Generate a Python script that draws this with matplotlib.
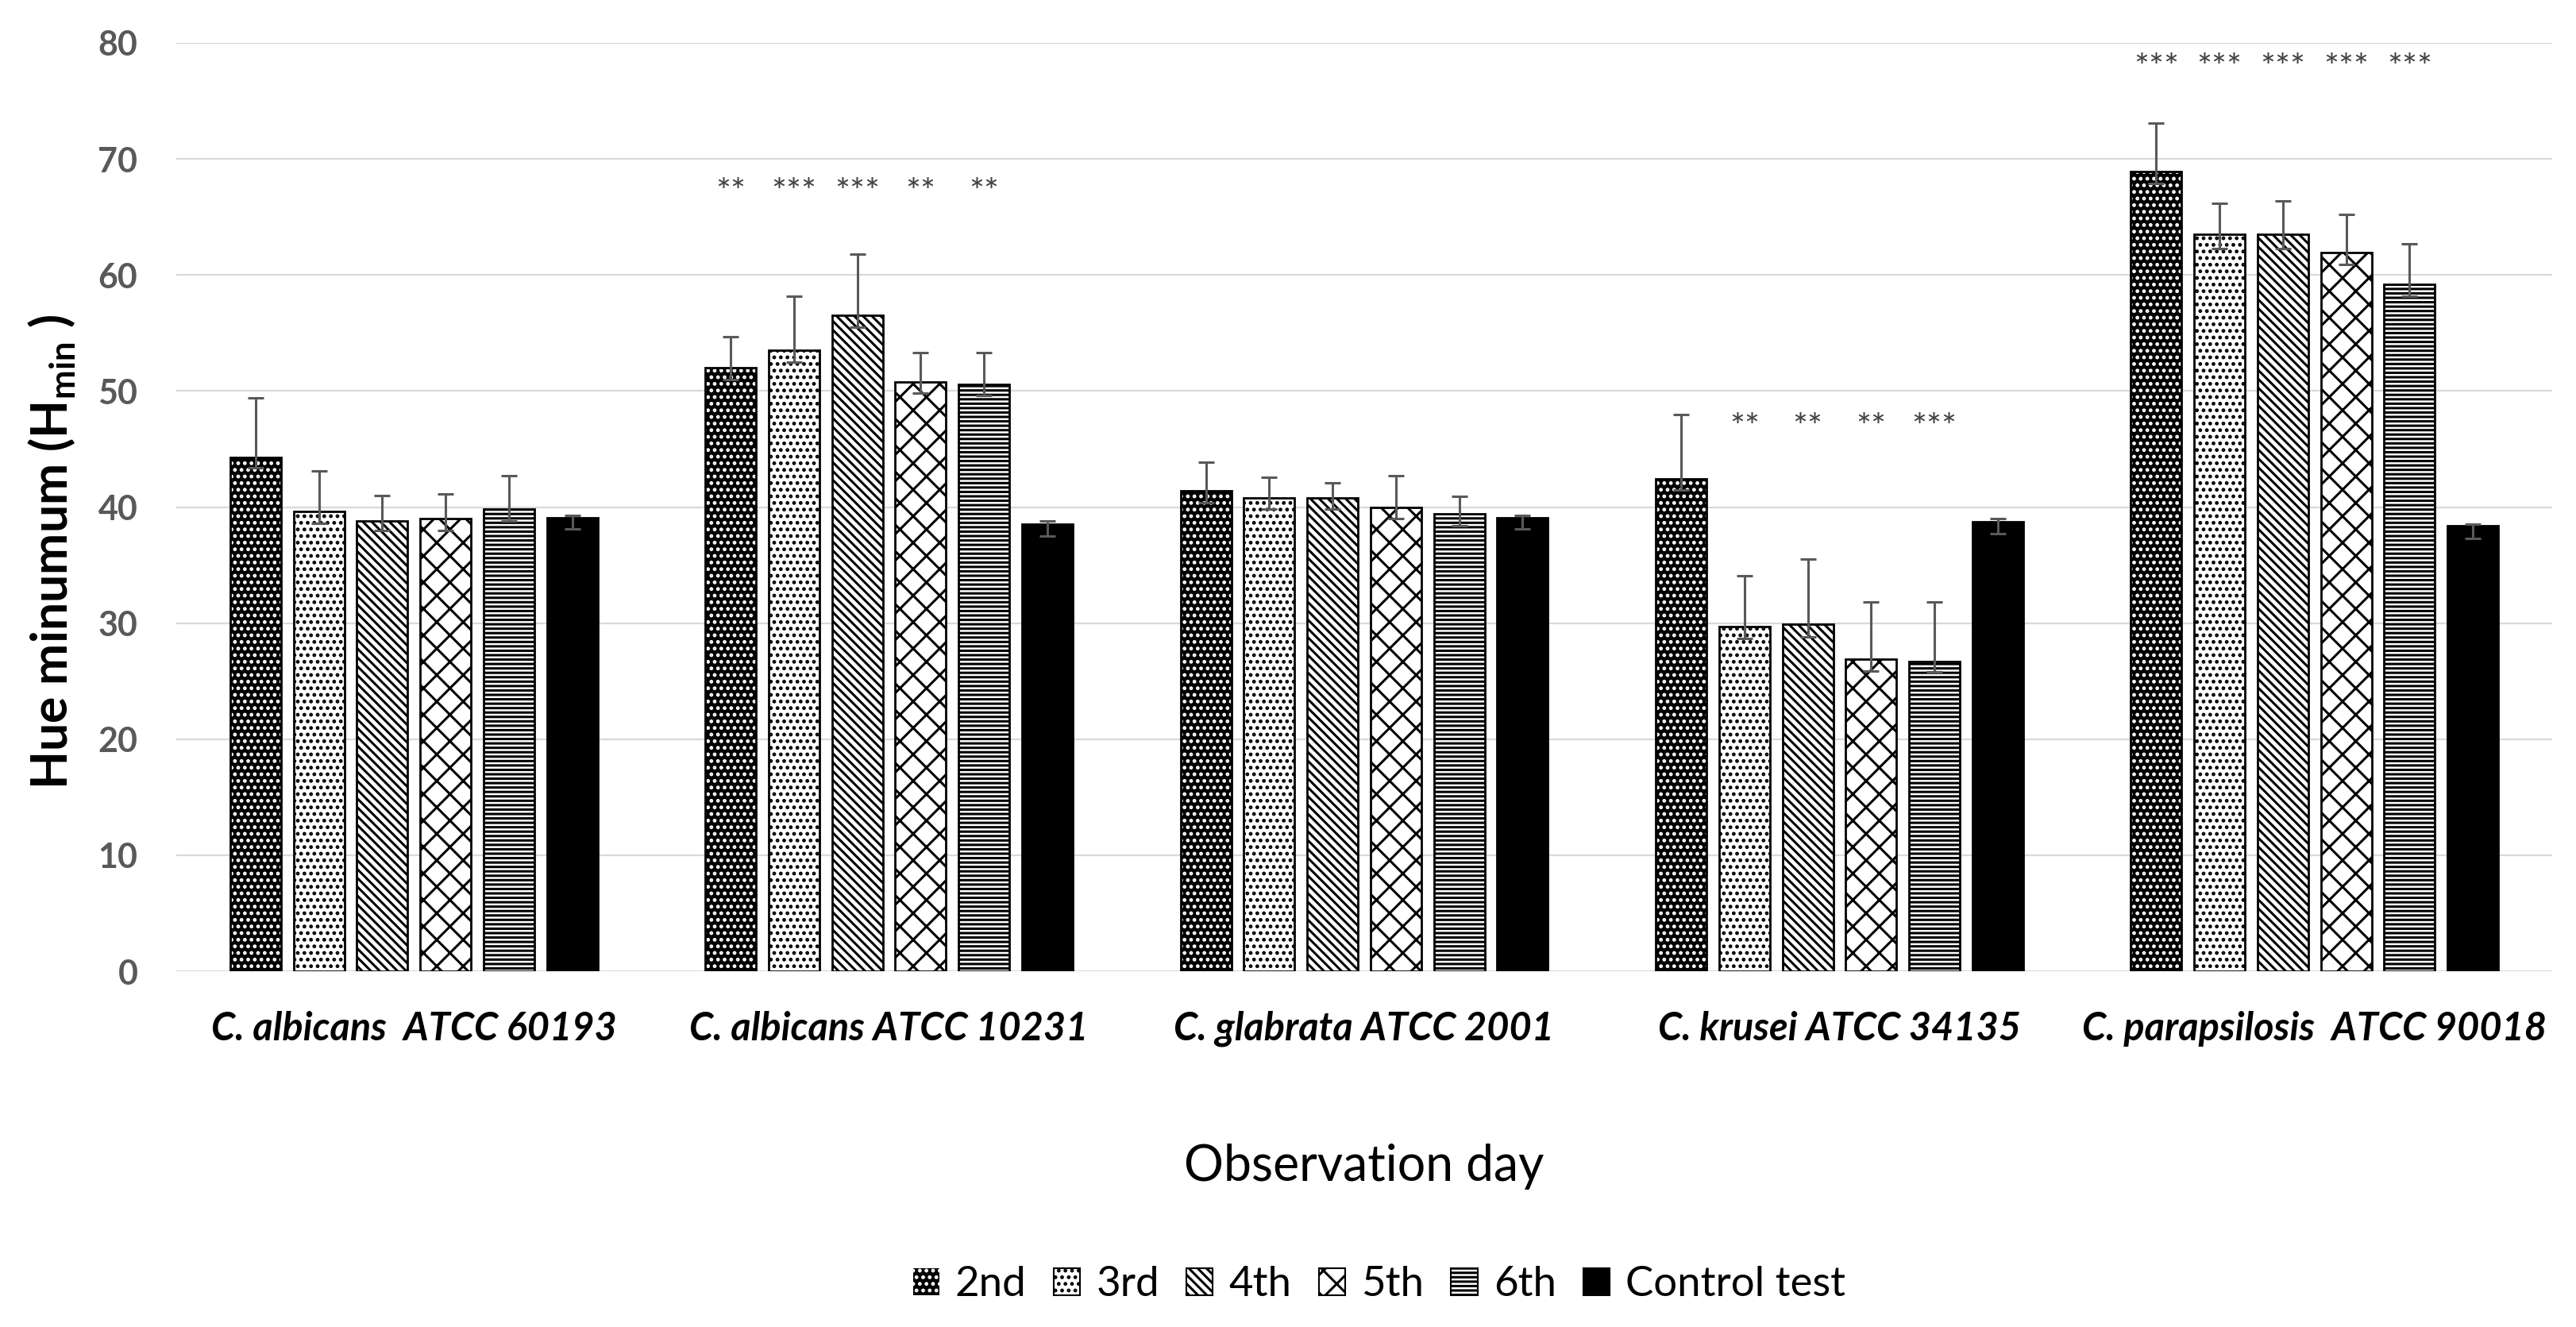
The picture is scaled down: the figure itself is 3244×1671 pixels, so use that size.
import matplotlib
matplotlib.use("Agg")
import matplotlib.pyplot as plt
from matplotlib.patches import Patch
import numpy as np

plt.rcParams['font.family'] = ['Lato', 'DejaVu Sans']
plt.rcParams['mathtext.fontset'] = 'custom'
plt.rcParams['mathtext.rm'] = 'Lato'
plt.rcParams['mathtext.bf'] = 'Lato:bold'
plt.rcParams['hatch.linewidth'] = 2.2

# ---------------- data ----------------
categories = ["C. albicans  ATCC 60193", "C. albicans ATCC 10231", "C. glabrata ATCC 2001",
              "C. krusei ATCC 34135", "C. parapsilosis  ATCC 90018"]
series_names = ["2nd", "3rd", "4th", "5th", "6th", "Control test"]

day2 = [44.3, 52.0, 41.4, 42.4, 68.9]
day3 = [39.6, 53.5, 40.8, 29.7, 63.5]
day4 = [38.8, 56.5, 40.8, 29.9, 63.5]
day5 = [39.0, 50.8, 40.0, 26.9, 61.9]
day6 = [39.8, 50.6, 39.4, 26.7, 59.2]
control = [39.1, 38.5, 39.1, 38.7, 38.4]

err_up2 = [5.1, 2.7, 2.5, 5.6, 4.2]
err_up3 = [3.5, 4.7, 1.8, 4.4, 2.7]
err_up4 = [2.2, 5.3, 1.3, 5.6, 2.9]
err_up5 = [2.1, 2.5, 2.7, 4.9, 3.3]
err_up6 = [2.9, 2.7, 1.5, 5.1, 3.5]
err_upc = [0.2, 0.3, 0.2, 0.3, 0.1]

err_lo2 = [0.9, 1.0, 1.0, 0.9, 1.0]
err_lo3 = [1.0, 1.0, 1.0, 1.0, 1.2]
err_lo4 = [0.8, 1.0, 1.0, 1.1, 1.2]
err_lo5 = [1.0, 1.0, 1.0, 1.0, 1.0]
err_lo6 = [1.0, 1.0, 1.0, 0.9, 1.0]
err_loc = [1.0, 1.0, 1.0, 1.0, 1.1]

sig2 = ["", "**", "", "", "***"]
sig3 = ["", "***", "", "**", "***"]
sig4 = ["", "***", "", "**", "***"]
sig5 = ["", "**", "", "**", "***"]
sig6 = ["", "**", "", "***", "***"]
sigc = ["", "", "", "", ""]
sig_level = [0, 67.0, 0, 46.8, 77.8]

yticks = [0, 10, 20, 30, 40, 50, 60, 70, 80]

# ---------------- styles ----------------
values = [day2, day3, day4, day5, day6, control]
ups = [err_up2, err_up3, err_up4, err_up5, err_up6, err_upc]
los = [err_lo2, err_lo3, err_lo4, err_lo5, err_lo6, err_loc]
sigs = [sig2, sig3, sig4, sig5, sig6, sigc]
faces = ['black', 'white', 'white', 'white', 'white', 'black']
hatchcols = ['white', 'black', 'black', 'black', 'black', 'black']
hatches = ['..', '..', '\\\\\\', 'x', '---', None]

W, H = 3244, 1671
fig = plt.figure(figsize=(W / 100, H / 100), dpi=100)
ax = fig.add_axes([222 / W, 1 - 1223 / H, (3214 - 222) / W, (1223 - 54) / H])

x = np.arange(len(categories))
pitch = 0.1333
bw = 0.107
grey = '#595959'

for j in range(6):
    xs = x + (j - 2.5) * pitch
    ax.bar(xs, values[j], bw, color=faces[j], edgecolor=hatchcols[j], hatch=hatches[j],
           linewidth=0, zorder=2)
    ax.bar(xs, values[j], bw, fill=False, edgecolor='black', linewidth=2.0, zorder=3)
    ax.errorbar(xs, values[j], yerr=[los[j], ups[j]], fmt='none', ecolor=grey,
                elinewidth=2.2, capsize=7, capthick=2.2, zorder=4)
    for i in range(len(categories)):
        if sigs[j][i]:
            ax.text(xs[i], sig_level[i], sigs[j][i], ha='center', va='center',
                    fontsize=32, color='#404040', zorder=5)

ax.set_xlim(-0.5, len(categories) - 0.5)
ax.set_ylim(0, 80)
ax.set_yticks(yticks)
ax.set_yticklabels([str(t) for t in yticks], fontsize=31, fontweight='bold', color=grey)
ax.tick_params(axis='y', length=0, pad=35)
ax.set_xticks(x)
ax.set_xticklabels(categories, fontsize=35, fontweight='bold', fontstyle='italic', va='center')
ax.tick_params(axis='x', length=0, pad=52)
ax.grid(axis='y', color='#d9d9d9', linewidth=1.6, zorder=0)
ax.set_axisbelow(True)
for s in ax.spines.values():
    s.set_visible(False)

fig.text(66 / W, 1 - 695 / H, r"Hue minumum (H$_{\mathbf{min}}$ )", rotation=90,
         ha='center', va='center', fontsize=45, fontweight='bold')
fig.text(1718 / W, 1 - 1469 / H, "Observation day", ha='center', va='center', fontsize=45)

handles = []
for j in range(6):
    if j == 0:
        handles.append(Patch(facecolor='black', edgecolor='white', hatch='..', linewidth=0))
    elif j == 5:
        handles.append(Patch(facecolor='black', edgecolor='black', linewidth=1.5))
    else:
        handles.append(Patch(facecolor='white', edgecolor='black', hatch=hatches[j], linewidth=1.5))
fig.legend(handles, series_names, loc='center', bbox_to_anchor=(1737 / W, 1 - 1618 / H),
           ncol=6, frameon=False, fontsize=38, handlelength=0.63, handleheight=0.63,
           handletextpad=0.38, columnspacing=0.65)

fig.savefig("out.png", dpi=100, facecolor='white')
